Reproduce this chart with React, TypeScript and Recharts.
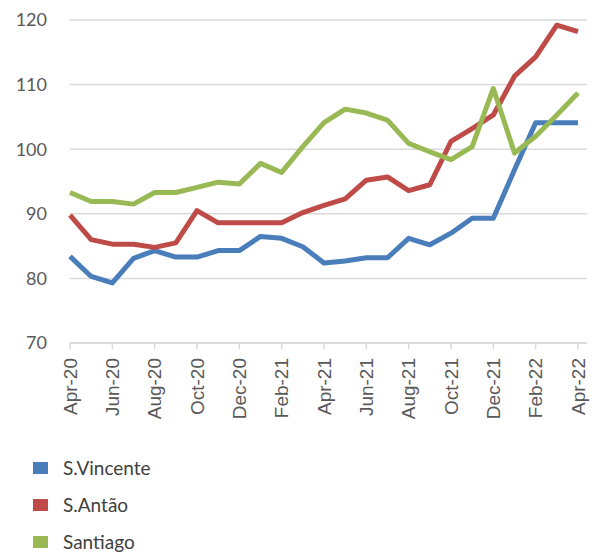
import React from 'react';
import { LineChart, Line, XAxis, YAxis, CartesianGrid, Legend } from 'recharts';

const months = [
  'Apr-20', 'May-20', 'Jun-20', 'Jul-20', 'Aug-20', 'Sep-20', 'Oct-20', 'Nov-20', 'Dec-20',
  'Jan-21', 'Feb-21', 'Mar-21', 'Apr-21', 'May-21', 'Jun-21', 'Jul-21', 'Aug-21', 'Sep-21',
  'Oct-21', 'Nov-21', 'Dec-21', 'Jan-22', 'Feb-22', 'Mar-22', 'Apr-22',
];

const sVincente = [
  83.4, 80.3, 79.3, 83.1, 84.3, 83.3, 83.3, 84.3, 84.3, 86.5, 86.2, 84.9, 82.4,
  82.7, 83.2, 83.2, 86.2, 85.2, 87.0, 89.3, 89.3, 96.8, 104.1, 104.1, 104.1,
];
const sAntao = [
  89.8, 86.0, 85.3, 85.3, 84.8, 85.5, 90.5, 88.6, 88.6, 88.6, 88.6, 90.2, 91.3,
  92.3, 95.2, 95.7, 93.6, 94.5, 101.2, 103.2, 105.3, 111.3, 114.3, 119.2, 118.2,
];
const santiago = [
  93.3, 91.9, 91.9, 91.5, 93.3, 93.3, 94.1, 94.9, 94.6, 97.8, 96.4, 100.4, 104.1,
  106.2, 105.6, 104.5, 100.9, 99.6, 98.4, 100.4, 109.4, 99.4, 102.0, 105.3, 108.7,
];

const yTicks = [70, 80, 90, 100, 110, 120];

const series = [
  { key: 'sv', name: 'S.Vincente', color: '#4a7ebb' },
  { key: 'sa', name: 'S.Antão', color: '#be4b48' },
  { key: 'st', name: 'Santiago', color: '#98b954' },
];

const data = months.map((m, i) => ({
  month: m,
  sv: sVincente[i],
  sa: sAntao[i],
  st: santiago[i],
}));

const MonthTick = (props: any) => {
  const { x, y, payload } = props;
  return (
    <g transform={`translate(${x},${y})`}>
      <text
        transform="rotate(-90)"
        x={-7}
        y={0}
        textAnchor="end"
        dominantBaseline="central"
        fill="#595959"
        fontSize={19}
        fontFamily="'Liberation Sans', Arial, sans-serif"
      >
        {payload.value}
      </text>
    </g>
  );
};

const LegendBox = () => (
  <div style={{ fontFamily: 'Lato, sans-serif', fontSize: 19, color: '#404040' }}>
    {series.map((s) => (
      <div key={s.key} style={{ display: 'flex', alignItems: 'center', height: 37 }}>
        <span style={{ display: 'inline-block', width: 15, height: 12, background: s.color, marginLeft: 33, marginRight: 15 }} />
        <span>{s.name}</span>
      </div>
    ))}
  </div>
);

export default function App() {
  return (
    <div style={{ position: 'absolute', left: 0, top: 0, width: 599, height: 554, background: '#fff' }}>
      <LineChart width={599} height={554} data={data} margin={{ top: 20, right: 12, left: 0, bottom: 0 }}>
        <CartesianGrid horizontal vertical={false} stroke="#d9d9d9" strokeWidth={1.5} />
        <XAxis
          dataKey="month"
          interval={1}
          height={97}
          padding={{ left: 0, right: 9 }}
          stroke="#d9d9d9"
          strokeWidth={1.5}
          tickSize={6}
          tickMargin={2}
          tick={<MonthTick />}
        />
        <YAxis
          domain={[70, 120]}
          ticks={yTicks}
          width={70}
          axisLine={false}
          tickLine={false}
          tickSize={0}
          tickMargin={23}
          tick={{ fill: '#595959', fontSize: 18, fontFamily: 'Lato, sans-serif' }}
        />
        <Legend
          layout="vertical"
          verticalAlign="bottom"
          align="center"
          height={114}
          wrapperStyle={{ left: 0, top: 449, width: 300, height: 114 }}
          content={<LegendBox />}
        />
        {series.map((s) => (
          <Line
            key={s.key}
            type="linear"
            dataKey={s.key}
            name={s.name}
            stroke={s.color}
            strokeWidth={5}
            strokeLinejoin="round"
            dot={false}
            activeDot={false}
            isAnimationActive={false}
          />
        ))}
      </LineChart>
    </div>
  );
}
